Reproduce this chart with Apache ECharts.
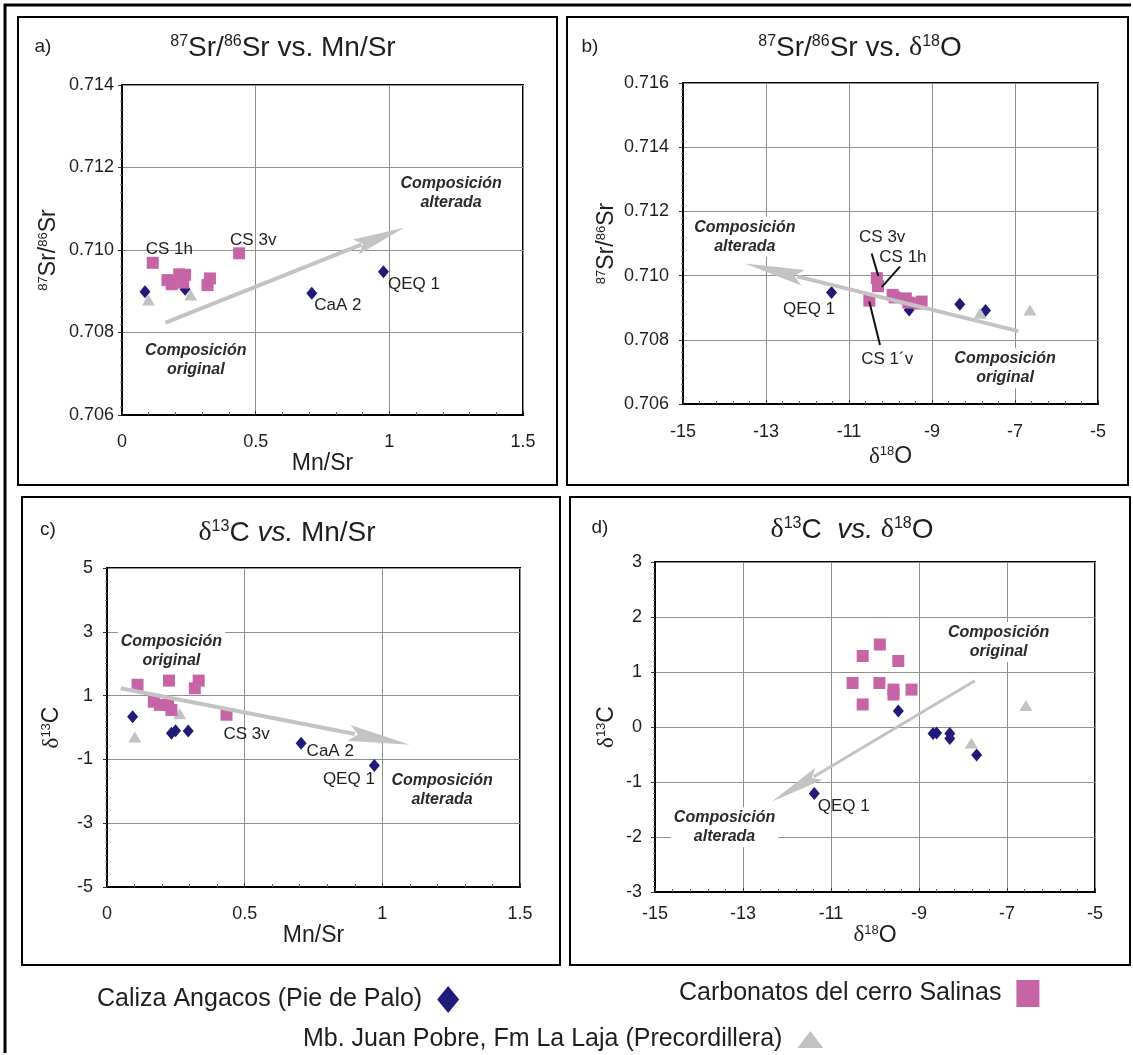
<!DOCTYPE html>
<html>
<head>
<meta charset="utf-8">
<script src="https://cdn.jsdelivr.net/npm/echarts@6/dist/echarts.min.js"></script>
<style>
  html, body { margin: 0; padding: 0; background: #fff; }
  #chart { width: 1133px; height: 1055px; }
</style>
</head>
<body>
<div id="chart"></div>
<script>
// ---- Series names ----
const S_ANG = 'Caliza Angacos (Pie de Palo)';
const S_SAL = 'Carbonatos del cerro Salinas';
const S_JP  = 'Mb. Juan Pobre, Fm La Laja (Precordillera)';

// ---- a) 87Sr/86Sr vs Mn/Sr : [Mn/Sr, 87Sr/86Sr] ----
const aAngacos   = [[0.086, 0.70899], [0.236, 0.70905], [0.710, 0.70895], [0.978, 0.70947]];
const aAngacosTag = ['', '', 'CaA 2', 'QEQ 1'];
const aSalinas   = [[0.115, 0.70969], [0.170, 0.70927], [0.186, 0.70917], [0.214, 0.70941], [0.236, 0.70940],
                    [0.229, 0.70921], [0.329, 0.70931], [0.320, 0.70915], [0.438, 0.70992]];
const aSalinasTag = ['CS 1h', '', '', '', '', '', '', '', 'CS 3v'];
const aJuanPobre = [[0.099, 0.70879], [0.257, 0.70891]];
const aArrow     = [0.163, 0.70824, 1.055, 0.71054];
const aNotes     = [[1.231, 0.71138, 'Composición\nalterada'], [0.276, 0.70732, 'Composición\noriginal']];

// ---- b) 87Sr/86Sr vs d18O : [d18O, 87Sr/86Sr] ----
const bAngacos   = [[-11.42, 0.70947], [-9.55, 0.70893], [-8.33, 0.70911], [-7.71, 0.70891]];
const bAngacosTag = ['QEQ 1', '', '', ''];
const bSalinas   = [[-10.33, 0.70992], [-10.30, 0.70967], [-10.51, 0.70922], [-9.95, 0.70940], [-9.90, 0.70932],
                    [-9.63, 0.70929], [-9.57, 0.70916], [-9.25, 0.70919], [-9.30, 0.70913]];
const bJuanPobre = [[-7.84, 0.70883], [-6.64, 0.70893]];
const bArrow     = [-6.92, 0.70827, -13.51, 0.71038];
const bNotes     = [[-13.51, 0.71121, 'Composición\nalterada'], [-7.24, 0.70711, 'Composición\noriginal']];
const bTags      = [[-10.20, 0.71119, 'CS 3v'], [-9.70, 0.71057, 'CS 1h'], [-10.08, 0.70739, 'CS 1´v']];
const bLeaders   = [[-10.453, 0.71069, -10.294, 0.70999], [-9.771, 0.71028, -10.212, 0.70964], [-10.511, 0.70919, -10.253, 0.70784]];

// ---- c) d13C vs Mn/Sr : [Mn/Sr, d13C] ----
const cAngacos   = [[0.093, 0.34], [0.234, -0.18], [0.249, -0.10], [0.295, -0.11], [0.705, -0.49], [0.971, -1.19]];
const cAngacosTag = ['', '', '', '', 'CaA 2', 'QEQ 1'];
const cSalinas   = [[0.111, 1.34], [0.225, 1.47], [0.333, 1.47], [0.319, 1.23], [0.170, 0.81],
                    [0.192, 0.71], [0.222, 0.71], [0.234, 0.55], [0.434, 0.40]];
const cSalinasTag = ['', '', '', '', '', '', '', '', 'CS 3v'];
const cJuanPobre = [[0.101, -0.30], [0.264, 0.43]];
const cArrow     = [0.05, 1.23, 1.10, -0.54];
const cNotes     = [[0.234, 2.40, 'Composición\noriginal'], [1.217, -1.97, 'Composición\nalterada']];

// ---- d) d13C vs d18O : [d18O, d13C] ----
const dAngacos   = [[-9.47, 0.29], [-8.68, -0.12], [-8.60, -0.11], [-8.30, -0.12], [-8.30, -0.21], [-7.69, -0.51], [-11.38, -1.21]];
const dAngacosTag = ['', '', '', '', '', '', 'QEQ 1'];
const dSalinas   = [[-10.28, 1.29], [-9.89, 1.50], [-9.47, 1.20], [-10.51, 0.80], [-9.90, 0.80],
                    [-9.58, 0.68], [-9.58, 0.59], [-9.17, 0.68], [-10.28, 0.41]];
const dJuanPobre = [[-7.81, -0.29], [-6.57, 0.39]];
const dArrow     = [-7.73, 0.84, -12.35, -1.36];
const dNotes     = [[-7.19, 1.545, 'Composición\noriginal'], [-13.42, -1.824, 'Composición\nalterada']];

// ---- Styling ----
const FONT  = '"Liberation Sans", Arial, sans-serif';
const SERIF = '"Liberation Serif", "DejaVu Serif", serif';
const INK = '#1e1e1e';
const MARK = {
  [S_ANG]: { symbol: 'diamond',  size: [11, 13], color: '#211a78', z: 2 },
  [S_SAL]: { symbol: 'rect',     size: 12,       color: '#c764a6', z: 4 },
  [S_JP]:  { symbol: 'triangle', size: [13, 11], color: '#c2c2c2', z: 3 }
};
const ARROW_COLOR = '#c3c3c3';

function richFor(size) {
  return {
    sup: { fontSize: Math.round(size * 0.58), fontFamily: FONT, verticalAlign: 'top', color: INK, fill: INK },
    d:   { fontSize: size, fontFamily: SERIF, color: INK, fill: INK },
    i:   { fontSize: size, fontFamily: FONT, fontStyle: 'italic', color: INK, fill: INK }
  };
}

const grids = [
  { left: 122, top: 85,  width: 401, height: 330 },
  { left: 683, top: 83,  width: 415, height: 321 },
  { left: 107, top: 568, width: 413, height: 319 },
  { left: 655, top: 562, width: 440, height: 330 }
].map(g => Object.assign(g, { show: true, borderColor: '#000', borderWidth: 2, backgroundColor: 'transparent' }));

function axisBase(gi) {
  return {
    gridIndex: gi, type: 'value',
    axisLine: { show: true, onZero: false, lineStyle: { color: '#000', width: 2 } },
    splitLine: { show: true, lineStyle: { color: '#8e8e8e', width: 1 } },
    axisLabel: { fontSize: 18, fontFamily: FONT, color: INK, showMinLabel: true, showMaxLabel: true },
    nameTextStyle: { fontSize: 23, fontFamily: FONT, color: INK, rich: richFor(23) },
    nameLocation: 'middle'
  };
}
function xAxis(gi, min, max, interval, name, margin, gap) {
  const a = axisBase(gi);
  return Object.assign(a, {
    position: 'bottom', min, max, interval, name, nameGap: gap,
    axisTick: { show: true, inside: true, length: 4, lineStyle: { color: '#333' } },
    minorTick: { show: true, splitNumber: 5, length: 3, lineStyle: { color: '#666' } },
    axisLabel: Object.assign(a.axisLabel, { margin })
  });
}
function yAxis(gi, min, max, interval, name, margin, gap, digits) {
  const a = axisBase(gi);
  return Object.assign(a, {
    position: 'left', min, max, interval, name, nameGap: gap, nameRotate: 90,
    axisTick: { show: true, inside: false, length: 4, lineStyle: { color: '#333' } },
    minorTick: { show: true, splitNumber: 10, length: 2, lineStyle: { color: '#777' } },
    axisLabel: Object.assign(a.axisLabel, {
      margin, formatter: v => digits ? v.toFixed(digits) : String(Math.round(v))
    })
  });
}

function pointSeries(gi, name, pts, tags, place) {
  const m = MARK[name];
  return {
    type: 'scatter', name, xAxisIndex: gi, yAxisIndex: gi,
    symbol: m.symbol, symbolSize: m.size, z: m.z, silent: true,
    itemStyle: { color: m.color, opacity: 1 },
    data: pts.map((p, i) => {
      const t = tags && tags[i];
      const item = { value: p };
      if (t) {
        item.label = Object.assign({
          show: true, formatter: t, fontSize: 17, fontFamily: FONT, color: INK, distance: 0
        }, place[t]);
      }
      return item;
    })
  };
}

function arrowSeries(gi, arr, shaft, head, half) {
  return {
    type: 'custom', xAxisIndex: gi, yAxisIndex: gi, z: 6, silent: true,
    data: [arr], encode: { x: [0, 2], y: [1, 3] },
    renderItem: (params, api) => {
      const s = api.coord([api.value(0), api.value(1)]);
      const e = api.coord([api.value(2), api.value(3)]);
      const dx = e[0] - s[0], dy = e[1] - s[1], len = Math.hypot(dx, dy);
      const ux = dx / len, uy = dy / len, nx = -uy, ny = ux;
      const bx = e[0] - ux * head, by = e[1] - uy * head;
      return {
        type: 'group', children: [
          { type: 'line', shape: { x1: s[0], y1: s[1], x2: bx + ux * 6, y2: by + uy * 6 },
            style: { stroke: ARROW_COLOR, lineWidth: shaft } },
          { type: 'polygon', shape: { points: [
              [e[0], e[1]], [bx + nx * half, by + ny * half],
              [bx + ux * head * 0.15, by + uy * head * 0.15], [bx - nx * half, by - ny * half]] },
            style: { fill: ARROW_COLOR } }
        ]
      };
    }
  };
}

function noteSeries(gi, notes) {
  return {
    type: 'custom', xAxisIndex: gi, yAxisIndex: gi, z: 5, silent: true,
    data: notes.map(n => [n[0], n[1]]), encode: { x: 0, y: 1 },
    renderItem: (params, api) => {
      const p = api.coord([api.value(0), api.value(1)]);
      return {
        type: 'text', x: p[0], y: p[1],
        style: {
          text: notes[params.dataIndex][2], align: 'center', verticalAlign: 'middle',
          fontSize: 16, fontWeight: 'bold', fontStyle: 'italic', fontFamily: FONT,
          fill: '#2a2a2a', backgroundColor: '#fff', padding: [1, 3], lineHeight: 19
        }
      };
    }
  };
}

function tagSeries(gi, tags) {
  return {
    type: 'custom', xAxisIndex: gi, yAxisIndex: gi, z: 7, silent: true,
    data: tags.map(n => [n[0], n[1]]), encode: { x: 0, y: 1 },
    renderItem: (params, api) => {
      const p = api.coord([api.value(0), api.value(1)]);
      return {
        type: 'text', x: p[0], y: p[1],
        style: { text: tags[params.dataIndex][2], align: 'center', verticalAlign: 'middle',
                 fontSize: 17, fontFamily: FONT, fill: INK }
      };
    }
  };
}

function leaderSeries(gi, segs) {
  return {
    type: 'custom', xAxisIndex: gi, yAxisIndex: gi, z: 7, silent: true,
    data: segs, encode: { x: [0, 2], y: [1, 3] },
    renderItem: (params, api) => {
      const s = api.coord([api.value(0), api.value(1)]);
      const e = api.coord([api.value(2), api.value(3)]);
      return { type: 'line', shape: { x1: s[0], y1: s[1], x2: e[0], y2: e[1] },
               style: { stroke: '#111', lineWidth: 2 } };
    }
  };
}

// label placement (position 'right'/'left' with small offsets)
const placeA = {
  'CS 1h': { position: 'right', offset: [-13, -13] },
  'CS 3v': { position: 'right', offset: [-15, -13] },
  'CaA 2': { position: 'right', offset: [-3, 12] },
  'QEQ 1': { position: 'right', offset: [-1, 12] }
};
const placeB = { 'QEQ 1': { position: 'left', offset: [9, 17] } };
const placeC = {
  'CS 3v': { position: 'right', offset: [-9, 20] },
  'CaA 2': { position: 'right', offset: [0, 8] },
  'QEQ 1': { position: 'left', offset: [6, 14] }
};
const placeD = { 'QEQ 1': { position: 'right', offset: [-2, 13] } };

const series = [
  pointSeries(0, S_ANG, aAngacos, aAngacosTag, placeA),
  pointSeries(0, S_JP, aJuanPobre),
  pointSeries(0, S_SAL, aSalinas, aSalinasTag, placeA),
  noteSeries(0, aNotes),
  arrowSeries(0, aArrow, 4, 52, 8),

  pointSeries(1, S_ANG, bAngacos, bAngacosTag, placeB),
  pointSeries(1, S_JP, bJuanPobre),
  pointSeries(1, S_SAL, bSalinas),
  noteSeries(1, bNotes),
  arrowSeries(1, bArrow, 4, 60, 8),
  leaderSeries(1, bLeaders),
  tagSeries(1, bTags),

  pointSeries(2, S_ANG, cAngacos, cAngacosTag, placeC),
  pointSeries(2, S_JP, cJuanPobre),
  pointSeries(2, S_SAL, cSalinas, cSalinasTag, placeC),
  noteSeries(2, cNotes),
  arrowSeries(2, cArrow, 4, 62, 8),

  pointSeries(3, S_ANG, dAngacos, dAngacosTag, placeD),
  pointSeries(3, S_JP, dJuanPobre),
  pointSeries(3, S_SAL, dSalinas),
  noteSeries(3, dNotes),
  arrowSeries(3, dArrow, 3, 55, 7)
];

function titleText(x, y, text) {
  return {
    type: 'text', x, y, z: 10,
    style: { text, fontSize: 28, fontFamily: FONT, fill: INK, align: 'center', verticalAlign: 'middle',
             rich: richFor(28) }
  };
}
function letter(x, y, text) {
  return { type: 'text', x, y, z: 10,
           style: { text, fontSize: 19, fontFamily: FONT, fill: INK, align: 'center', verticalAlign: 'middle' } };
}
function box(x, y, w, h) {
  return { type: 'rect', shape: { x, y, width: w, height: h }, z: 1,
           style: { fill: 'none', stroke: '#000', lineWidth: 2 } };
}

function legendItem(name, icon, left, top, w, h) {
  return {
    data: [name], left, top, padding: 0, align: 'right', icon,
    itemWidth: w, itemHeight: h, itemGap: 0, selectedMode: false,
    textStyle: { fontSize: 25, fontFamily: FONT, color: INK, padding: [0, 10, 0, 0] }
  };
}

const option = {
  animation: false,
  backgroundColor: '#fff',
  grid: grids,
  xAxis: [
    xAxis(0, 0, 1.5, 0.5, 'Mn/Sr', 18, 29),
    xAxis(1, -15, -5, 2, '{d|δ}{sup|18}O', 19, 41),
    xAxis(2, 0, 1.5, 0.5, 'Mn/Sr', 18, 29),
    xAxis(3, -15, -5, 2, '{d|δ}{sup|18}O', 13, 28)
  ],
  yAxis: [
    yAxis(0, 0.706, 0.714, 0.002, '{sup|87}Sr/{sup|86}Sr', 8, 62, 3),
    yAxis(1, 0.706, 0.716, 0.002, '{sup|87}Sr/{sup|86}Sr', 14, 65, 3),
    yAxis(2, -5, 5, 2, '{d|δ}{sup|13}C', 14, 44, 0),
    yAxis(3, -3, 3, 1, '{d|δ}{sup|13}C', 13, 37, 0)
  ],
  legend: [
    legendItem(S_ANG, 'diamond', 97, 986, 22, 27),
    legendItem(S_SAL, 'rect', 679, 980, 23, 27),
    legendItem(S_JP, 'triangle', 303, 1027, 26, 17)
  ],
  graphic: [
    { type: 'polyline', shape: { points: [[5, 1053], [5, 5], [1131, 5]] }, z: 1,
      style: { fill: 'none', stroke: '#000', lineWidth: 3 } },
    box(18, 17, 539, 468),
    box(567, 17, 561, 468),
    box(22, 497, 538, 468),
    box(570, 497, 560, 468),
    letter(43, 47, 'a)'),
    letter(590, 47, 'b)'),
    letter(48, 530, 'c)'),
    letter(600, 528, 'd)'),
    titleText(283, 48, '{sup|87}Sr/{sup|86}Sr vs. Mn/Sr'),
    titleText(860, 48, '{sup|87}Sr/{sup|86}Sr vs. {d|δ}{sup|18}O'),
    titleText(287, 533, '{d|δ}{sup|13}C {i|vs.} Mn/Sr'),
    titleText(852, 530, '{d|δ}{sup|13}C  {i|vs.} {d|δ}{sup|18}O')
  ],
  series
};

const chart = echarts.init(document.getElementById('chart'), null, { renderer: 'canvas' });
chart.setOption(option);
</script>
</body>
</html>
